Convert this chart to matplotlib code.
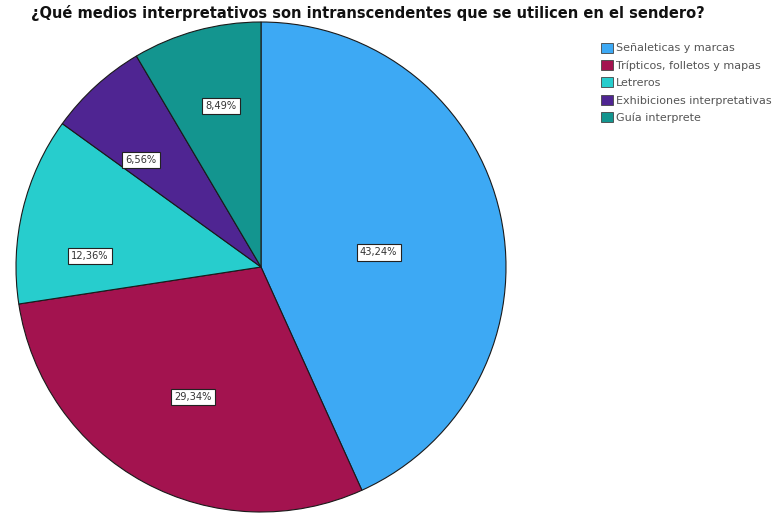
import matplotlib
matplotlib.use('Agg')
import matplotlib.pyplot as plt
import matplotlib.patches as mpatches

# data
categorias = ['Señaleticas y marcas', 'Trípticos, folletos y mapas', 'Letreros',
              'Exhibiciones interpretativas', 'Guía interprete']
porcentajes = [43.24, 29.34, 12.36, 6.56, 8.49]
etiquetas = ['43,24%', '29,34%', '12,36%', '6,56%', '8,49%']

colores = ['#3DA9F4', '#A3134F', '#27CDCD', '#4F2592', '#13958F']
# posiciones de las etiquetas (como en SPSS, no todas a la misma distancia)
pos_etiquetas = [(0.48, 0.06), (-0.278, -0.53), (-0.698, 0.045), (-0.49, 0.437), (-0.163, 0.657)]

plt.rcParams['font.family'] = ['DejaVu Sans']

fig = plt.figure(figsize=(7.81, 5.2), dpi=100)
ax = fig.add_axes([16/781, 8/520, 490/781, 490/520])

wedges, _ = ax.pie(porcentajes, colors=colores, startangle=90, counterclock=False,
                   wedgeprops=dict(edgecolor='#1a1a1a', linewidth=0.8))

for (x, y), lab in zip(pos_etiquetas, etiquetas):
    ax.text(x, y, lab, ha='center', va='center', fontsize=7.1,
            color='#333333',
            bbox=dict(boxstyle='square,pad=0.33', fc='white', ec='#222222', lw=0.8))

ax.set_xlim(-1, 1)
ax.set_ylim(-1, 1)
ax.set_aspect('equal')

fig.text(368/781, 1 - 13/520, '¿Qué medios interpretativos son intranscendentes que se utilicen en el sendero?',
         ha='center', va='center', fontsize=10.5, fontweight='bold', color='#111111')

handles = [mpatches.Patch(facecolor=c, edgecolor='#444444', linewidth=0.6, label=l)
           for c, l in zip(colores, categorias)]
leg = fig.legend(handles=handles, loc='upper left', bbox_to_anchor=(595/781, 1 - 37/520),
                 frameon=False, fontsize=8, handlelength=1.1, handleheight=1.0,
                 handletextpad=0.25, labelspacing=0.6, borderpad=0)
for t in leg.get_texts():
    t.set_color('#555555')

fig.savefig('out.png', dpi=100)
